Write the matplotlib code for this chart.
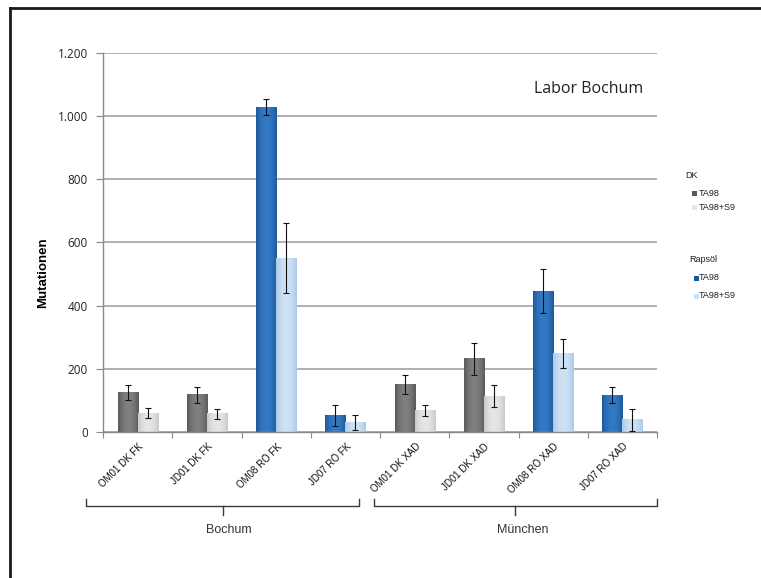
import numpy as np
import matplotlib
matplotlib.use("Agg")
import matplotlib.pyplot as plt
from matplotlib.colors import LinearSegmentedColormap
from matplotlib.lines import Line2D
from matplotlib.patches import Rectangle
from matplotlib.transforms import blended_transform_factory, offset_copy

# --- data -------------------------------------------------------------
categories = ["OM01 DK FK", "JD01 DK FK", "OM08 RÖ FK", "JD07 RÖ FK",
              "OM01 DK XAD", "JD01 DK XAD", "OM08 RÖ XAD", "JD07 RÖ XAD"]
sample_type = ["DK", "DK", "Rapsöl", "Rapsöl", "DK", "DK", "Rapsöl", "Rapsöl"]
ta98 = [125, 118, 1028, 52, 150, 231, 445, 117]
ta98_err = [25, 25, 26, 34, 31, 51, 70, 24]
ta98_s9 = [60, 58, 550, 30, 68, 113, 248, 38]
ta98_s9_err = [15, 16, 110, 25, 17, 35, 47, 35]
groups = ["Bochum", "München"]
yticks = [0, 200, 400, 600, 800, 1000, 1200]
ytick_labels = ["0", "200", "400", "600", "800", "1.000", "1.200"]

# --- styling ----------------------------------------------------------
colors = {
    ("DK", "TA98"): ("#585858", "#808080"),
    ("DK", "S9"): ("#c9c9c9", "#e6e6e6"),
    ("Rapsöl", "TA98"): ("#1d5799", "#3479c4"),
    ("Rapsöl", "S9"): ("#a9c8e8", "#cfe2f5"),
}

W, H = 761, 578
fig = plt.figure(figsize=(W / 100, H / 100), dpi=100)
ax = fig.add_axes([103 / W, 1 - 432 / H, 554 / W, 379.3 / H])

x = np.arange(len(categories))
bw = 0.29


def cylinder(ax, bars, key_list):
    """Overlay a horizontal shading on each bar for a rounded look."""
    prof = np.linspace(-1, 1, 64)
    shade = 1 - prof ** 2
    for rect, key in zip(bars, key_list):
        dark, light = colors[key]
        cmap = LinearSegmentedColormap.from_list("c", [dark, light])
        x0, w, h = rect.get_x(), rect.get_width(), rect.get_height()
        ax.imshow(shade[np.newaxis, :], cmap=cmap, vmin=0, vmax=1,
                  extent=[x0, x0 + w, 0, h], aspect="auto",
                  interpolation="bicubic", zorder=2)


b1 = ax.bar(x - bw / 2, ta98, bw, color=[colors[(t, "TA98")][1] for t in sample_type],
            zorder=2, linewidth=0)
b2 = ax.bar(x + bw / 2, ta98_s9, bw, color=[colors[(t, "S9")][1] for t in sample_type],
            zorder=2, linewidth=0)
cylinder(ax, b1, [(t, "TA98") for t in sample_type])
cylinder(ax, b2, [(t, "S9") for t in sample_type])

ax.errorbar(x - bw / 2, ta98, yerr=ta98_err, fmt="none", ecolor="#111111",
            elinewidth=0.8, capsize=2.5, capthick=0.8, zorder=4)
ax.errorbar(x + bw / 2, ta98_s9, yerr=ta98_s9_err, fmt="none", ecolor="#111111",
            elinewidth=0.8, capsize=2.5, capthick=0.8, zorder=4)

ax.set_xlim(-0.5, len(categories) - 0.5)
ax.set_ylim(0, 1200)
ax.set_yticks(yticks)
ax.set_yticklabels(ytick_labels, fontfamily="Open Sans", fontsize=8.5, color="#222222")
ax.yaxis.grid(True, color="#a9a9a9", linewidth=1.3, zorder=0)
ax.set_axisbelow(True)
ax.tick_params(axis="y", length=5, color="#8a8a8a", pad=6)

ax.set_xticks(np.arange(-0.5, len(categories), 1.0))
ax.set_xticklabels([])
ax.tick_params(axis="x", length=4, color="#8a8a8a")

for side in ("top", "right"):
    ax.spines[side].set_visible(False)
for side in ("left", "bottom"):
    ax.spines[side].set_color("#8a8a8a")
    ax.spines[side].set_linewidth(1.0)

# rotated category labels
bt = blended_transform_factory(ax.transData, ax.transAxes)
lab_tr = offset_copy(bt, fig=fig, x=4, y=-13, units="dots")
for xi, name in zip(x, categories):
    ax.text(xi, 0, name, transform=lab_tr, rotation=45, ha="right", va="center",
            rotation_mode="anchor", fontsize=7, fontfamily="Liberation Sans",
            color="#111111")

ax.set_ylabel("Mutationen", fontsize=9.5, fontweight="bold",
              fontfamily="Liberation Sans")
ax.yaxis.set_label_coords(-0.098, 0.42)

ax.text(0.975, 0.905, "Labor Bochum", transform=ax.transAxes, ha="right",
        va="center", fontsize=11.5, fontfamily="Open Sans", color="#222222")

# location brackets below the category labels
bracket_spans = [(-0.745, 3.19, 1.226), (3.41, 7.5, 5.45)]
y_line, y_end, y_tip, y_text = -0.196, -0.177, -0.219, -0.258
for (a, b, m), name in zip(bracket_spans, groups):
    ax.plot([a, a, b, b], [y_end, y_line, y_line, y_end], transform=bt,
            color="#3a3a3a", lw=1.0, clip_on=False)
    ax.plot([m, m], [y_line, y_tip], transform=bt, color="#3a3a3a", lw=1.0,
            clip_on=False)
    ax.text((a + b) / 2 + 0.1, y_text, name, transform=bt, ha="center",
            va="center", fontsize=9, fontfamily="Liberation Sans",
            color="#333333")

# legend blocks on the right
def fx(px):
    return px / W


def fy(py):
    return 1 - py / H


legend_blocks = [
    ("DK", 685, 175, 692, 699, [193.5, 207]),
    ("Rapsöl", 689, 259, 694, 699, [278, 296]),
]
for title, tx, ty, sx, lx, rows in legend_blocks:
    fig.text(fx(tx), fy(ty), title, fontsize=6.5, fontfamily="Liberation Sans",
             va="center", ha="left", color="#222222")
    for py, series, lbl in zip(rows, ("TA98", "S9"), ("TA98", "TA98+S9")):
        dark, light = colors[(title, series)]
        fig.patches.append(Rectangle((fx(sx), fy(py + 2.5)), 5 / W, 5 / H,
                                     transform=fig.transFigure,
                                     facecolor=dark if series == "TA98" else light,
                                     edgecolor="none"))
        fig.text(fx(lx), fy(py), lbl, fontsize=6.5, fontfamily="Liberation Sans",
                 va="center", ha="left", color="#222222")

# outer frame (top and left edges)
fig.lines.append(Line2D([fx(10), 1.0], [fy(8), fy(8)], transform=fig.transFigure,
                        color="#1a1a1a", lw=2))
fig.lines.append(Line2D([fx(10), fx(10)], [fy(8), 0.0], transform=fig.transFigure,
                        color="#1a1a1a", lw=2))

fig.savefig("out.png", dpi=100)
